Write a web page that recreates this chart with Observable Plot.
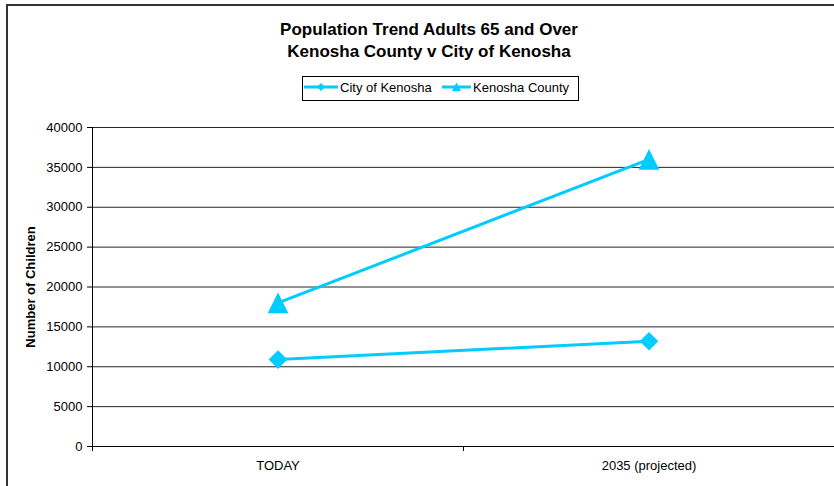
<!DOCTYPE html>
<html>
<head>
<meta charset="utf-8">
<script src="https://cdn.jsdelivr.net/npm/d3@7"></script>
<script src="https://cdn.jsdelivr.net/npm/@observablehq/plot@0.6"></script>
<style>
  html, body { margin: 0; padding: 0; background: #fff; overflow: hidden; }
  #wrap { position: relative; width: 834px; height: 486px; overflow: hidden; font-family: "Liberation Sans", Arial, sans-serif; }
  #chart { position: absolute; left: 0; top: 0; }
  #frame { position: absolute; left: 6px; top: 4px; width: 1000px; height: 1000px; border-left: 2px solid #333; border-top: 2px solid #333; pointer-events: none; }
  .title { position: absolute; left: 229px; width: 400px; text-align: center; font-weight: bold; font-size: 17px; line-height: 22px; color: #000; white-space: nowrap; }
  #legend { position: absolute; left: 302px; top: 76px; }
</style>
</head>
<body>
<div id="wrap">
  <div id="chart"></div>
  <div id="frame"></div>
  <div class="title" style="top:18.5px">Population Trend Adults 65 and Over</div>
  <div class="title" style="top:40.5px">Kenosha County v City of Kenosha</div>
  <svg id="legend" width="278" height="26"></svg>
</div>
<script>
// ---- data ----
const categories = ["TODAY", "2035 (projected)"];
const seriesNames = ["City of Kenosha", "Kenosha County"];
const cityValues = [10900, 13200];
const countyValues = [18000, 36000];
const yTicks = [0, 5000, 10000, 15000, 20000, 25000, 30000, 35000, 40000];
const yLabel = "Number of Children";

const color = "#00CCFF";

// custom triangle centred on its bounding box
const triangleSym = {
  draw(ctx, size) {
    const a = Math.sqrt(size / Math.PI) * 1.3;
    ctx.moveTo(0, -a);
    ctx.lineTo(a, a);
    ctx.lineTo(-a, a);
    ctx.closePath();
  }
};

const city = categories.map((c, i) => ({pos: i + 0.5, value: cityValues[i]}));
const county = categories.map((c, i) => ({pos: i + 0.5, value: countyValues[i]}));
const boundaries = d3.range(categories.length + 1);

const chart = Plot.plot({
  width: 834,
  height: 486,
  marginLeft: 92,
  marginRight: 0,
  marginTop: 127,
  marginBottom: 40,
  style: {fontFamily: "'Liberation Sans', Arial, sans-serif", fontSize: "13px", color: "#000", background: "transparent"},
  x: {type: "linear", domain: [0, categories.length]},
  y: {domain: [0, 40000]},
  marks: [
    Plot.ruleY(yTicks.filter(d => d > 0), {stroke: "#000", strokeWidth: 1, strokeOpacity: 0.85}),
    Plot.axisY({ticks: yTicks, tickSize: 5, tickPadding: 5, tickFormat: d => String(d), label: null, stroke: "#000"}),
    Plot.axisX({ticks: boundaries, tickSize: 5, tickFormat: () => "", label: null, stroke: "#000"}),
    Plot.axisX({ticks: categories.map((c, i) => i + 0.5), tickSize: 0, tickPadding: 14, tickFormat: d => categories[Math.round(d - 0.5)], label: null}),
    Plot.ruleX([0], {stroke: "#000"}),
    Plot.ruleY([0], {stroke: "#000"}),
    Plot.text([yLabel], {frameAnchor: "left", textAnchor: "middle", rotate: -90, dx: -62, fontWeight: "bold", fontSize: 13, fill: "#000"}),
    Plot.line(city, {x: "pos", y: "value", stroke: color, strokeWidth: 3}),
    Plot.line(county, {x: "pos", y: "value", stroke: color, strokeWidth: 3}),
    Plot.dot(city, {x: "pos", y: "value", symbol: "diamond2", r: 8.4, fill: color, stroke: "none"}),
    Plot.dot(county, {x: "pos", y: "value", symbol: triangleSym, r: 8, fill: color, stroke: "none"})
  ]
});
document.getElementById("chart").appendChild(chart);

// ---- legend ----
const lg = d3.select("#legend");
lg.append("rect").attr("x", 0.5).attr("y", 0.5).attr("width", 276).attr("height", 24)
  .attr("fill", "#fff").attr("stroke", "#000");
const items = [
  {name: seriesNames[0], x0: 2, x1: 36, type: "diamond"},
  {name: seriesNames[1], x0: 140, x1: 169, type: "triangle"}
];
items.forEach(it => {
  lg.append("line").attr("x1", it.x0).attr("x2", it.x1).attr("y1", 11).attr("y2", 11)
    .attr("stroke", color).attr("stroke-width", 3);
  const cx = (it.x0 + it.x1) / 2;
  if (it.type === "diamond") {
    lg.append("path").attr("d", `M${cx},7 L${cx + 4},11 L${cx},15 L${cx - 4},11 Z`).attr("fill", color);
  } else {
    lg.append("path").attr("d", `M${cx},6.5 L${cx + 4.5},15 L${cx - 4.5},15 Z`).attr("fill", color);
  }
  lg.append("text").attr("x", it.x1 + 2).attr("y", 16)
    .attr("font-family", "'Liberation Sans', Arial, sans-serif").attr("font-size", 13)
    .attr("fill", "#000").text(it.name);
});
</script>
</body>
</html>
